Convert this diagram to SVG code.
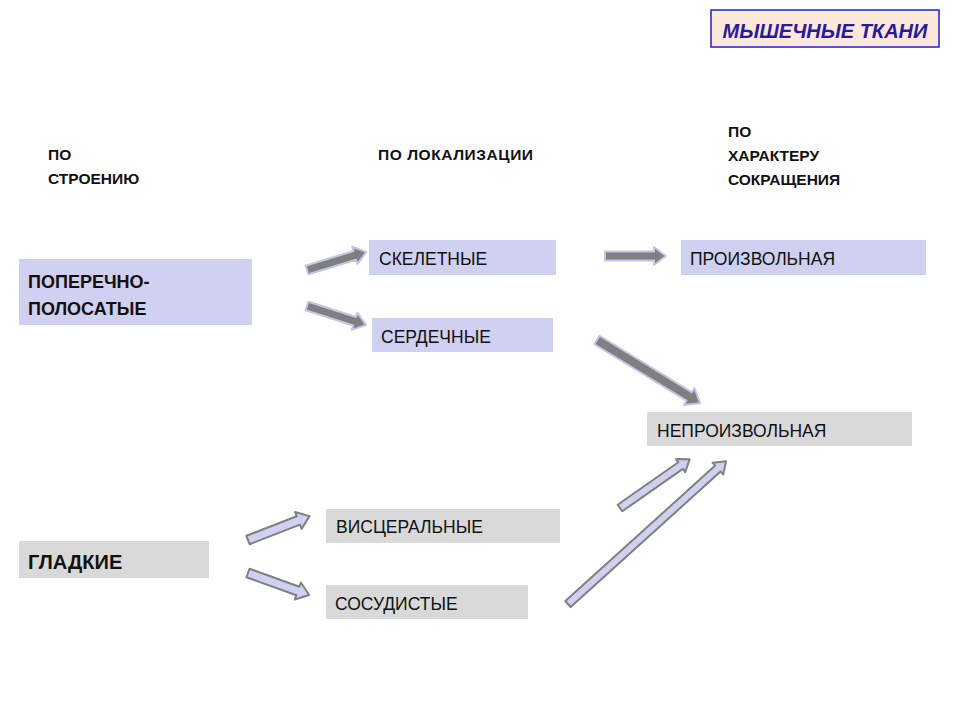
<svg xmlns="http://www.w3.org/2000/svg" width="960" height="720" viewBox="0 0 960 720">
<style>
.t{font-family:"Liberation Sans",Arial,sans-serif;fill:#111;}
.h{font-size:15.5px;font-weight:bold;}
.n{font-size:17.5px;}
.b{font-size:18px;font-weight:bold;}
.lav{fill:#d0d0f0;}
.gry{fill:#d9d9d9;}
.a1{fill:#7f7f7f;stroke:#c4c4e8;stroke-width:2;stroke-linejoin:round;}
.a2{fill:#d0d0f0;stroke:#808080;stroke-width:2;stroke-linejoin:round;}
</style>
<rect width="960" height="720" fill="#fff"/>
<g id="title">
<rect x="711" y="10" width="228" height="37" fill="#fde9d9" stroke="#2020c0" stroke-width="1.5"/>
<text x="825" y="38" text-anchor="middle" font-family="Liberation Sans,Arial,sans-serif" font-size="20" font-weight="bold" font-style="italic" fill="#2a1a9a">МЫШЕЧНЫЕ ТКАНИ</text>
</g>
<g id="hdr1"><text class="t h" x="48" y="160">ПО</text><text class="t h" x="48" y="184">СТРОЕНИЮ</text></g>
<g id="hdr2"><text class="t h" x="378" y="160" textLength="155">ПО ЛОКАЛИЗАЦИИ</text></g>
<g id="hdr3"><text class="t h" x="728" y="137">ПО</text><text class="t h" x="728" y="161">ХАРАКТЕРУ</text><text class="t h" x="728" y="185">СОКРАЩЕНИЯ</text></g>
<g id="n-poper"><rect class="lav" x="19" y="259" width="233" height="66"/><text class="t b" x="28" y="288">ПОПЕРЕЧНО-</text><text class="t b" x="28" y="315">ПОЛОСАТЫЕ</text></g>
<g id="n-skel"><rect class="lav" x="369" y="240" width="187" height="35"/><text class="t n" x="379" y="265">СКЕЛЕТНЫЕ</text></g>
<g id="n-serd"><rect class="lav" x="372" y="318" width="181" height="34"/><text class="t n" x="381" y="343">СЕРДЕЧНЫЕ</text></g>
<g id="n-proiz"><rect class="lav" x="681" y="240" width="245" height="35"/><text class="t n" x="690" y="265">ПРОИЗВОЛЬНАЯ</text></g>
<g id="n-neproiz"><rect class="gry" x="647" y="412" width="265" height="34"/><text class="t n" x="657" y="437">НЕПРОИЗВОЛЬНАЯ</text></g>
<g id="n-glad"><rect class="gry" x="19" y="541" width="190" height="37"/><text class="t b" x="28" y="569" style="font-size:20px">ГЛАДКИЕ</text></g>
<g id="n-visc"><rect class="gry" x="326" y="509" width="234" height="34"/><text class="t n" x="336" y="533">ВИСЦЕРАЛЬНЫЕ</text></g>
<g id="n-sosud"><rect class="gry" x="326" y="585" width="202" height="34"/><text class="t n" x="335" y="610">СОСУДИСТЫЕ</text></g>
<g id="connectors">
<polygon class="a1" transform="translate(307,270) rotate(-17)" points="0,-4.5 50,-4.5 50,-9 62,0 50,9 50,4.5 0,4.5"/>
<polygon class="a1" transform="translate(307,306) rotate(17.8)" points="0,-4.5 50,-4.5 50,-9 62,0 50,9 50,4.5 0,4.5"/>
<polygon class="a1" transform="translate(605,256) rotate(0)" points="0,-4.5 49,-4.5 49,-9 61,0 49,9 49,4.5 0,4.5"/>
<polygon class="a1" transform="translate(597,340) rotate(31.5)" points="0,-5 108,-5 108,-10 121,0 108,10 108,5 0,5"/>
<polygon class="a2" transform="translate(248,540) rotate(-21.2)" points="0,-4.5 54,-4.5 54,-9 66,0 54,9 54,4.5 0,4.5"/>
<polygon class="a2" transform="translate(248,573) rotate(19.8)" points="0,-4.5 53,-4.5 53,-9 65,0 53,9 53,4.5 0,4.5"/>
<polygon class="a2" transform="translate(620,508) rotate(-35)" points="0,-4 74,-4 74,-8 85,0 74,8 74,4 0,4"/>
<polygon class="a2" transform="translate(568,604) rotate(-42.1)" points="0,-4 202,-4 202,-8 213,0 202,8 202,4 0,4"/>
</g>
</svg>
